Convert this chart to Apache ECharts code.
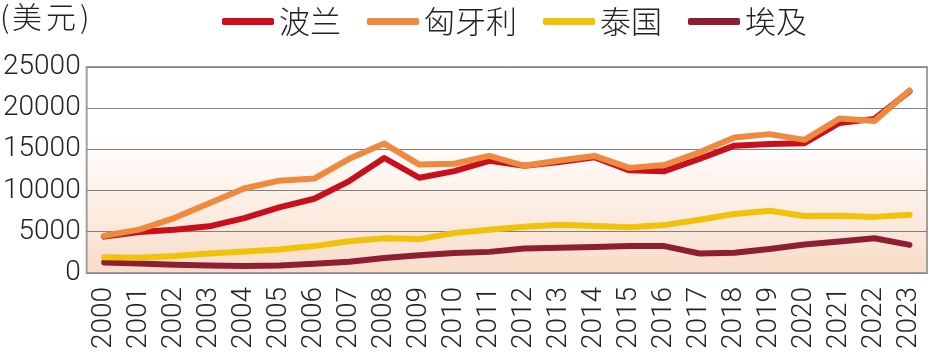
<!DOCTYPE html>
<html>
<head>
<meta charset="utf-8">
<script src="https://cdn.jsdelivr.net/npm/echarts@6/dist/echarts.min.js"></script>
<style>
  html, body { margin: 0; padding: 0; background: #fff; }
  #chart { width: 929px; height: 352px; }
</style>
</head>
<body>
<div id="chart"></div>
<script>
// 年份
const years = ['2000', '2001', '2002', '2003', '2004', '2005', '2006', '2007', '2008', '2009', '2010', '2011',
  '2012', '2013', '2014', '2015', '2016', '2017', '2018', '2019', '2020', '2021', '2022', '2023']
// 人均GDP（美元）
const poland = [4400, 4950, 5250, 5650, 6650, 7950, 9000, 11150, 13950, 11550, 12350, 13600,
  13000, 13450, 14050, 12450, 12350, 13850, 15450, 15650, 15750, 18200, 18700, 22050]
const hungary = [4500, 5250, 6650, 8450, 10250, 11200, 11450, 13850, 15700, 13150, 13250, 14200,
  13000, 13650, 14200, 12750, 13100, 14650, 16450, 16850, 16150, 18750, 18450, 22150]
const thailand = [1900, 1850, 2050, 2350, 2600, 2850, 3250, 3850, 4200, 4100, 4850, 5250,
  5600, 5850, 5700, 5550, 5800, 6450, 7150, 7550, 6900, 6950, 6800, 7050]
const egypt = [1250, 1150, 1000, 900, 850, 900, 1100, 1350, 1800, 2150, 2400, 2550,
  2950, 3050, 3150, 3250, 3250, 2350, 2450, 2900, 3450, 3800, 4200, 3400]
const yTicks = [0, 5000, 10000, 15000, 20000, 25000]

const font = "Roboto, 'Liberation Sans', sans-serif"
const cjkFont = "'Noto Sans CJK SC', sans-serif"

const chart = echarts.init(document.getElementById('chart'))

function mkSeries(name, data, color) {
  return {
    name: name,
    type: 'line',
    data: data,
    symbol: 'none',
    color: color,
    lineStyle: { width: 6, color: color, cap: 'round', join: 'round' }
  }
}

// 单位文字，手动拉开字距
const unitStyle = { font: '300 30px ' + cjkFont, fill: '#222' }
const option = {
  animation: false,
  graphic: [{
    type: 'group',
    left: 0,
    top: 2,
    children: [
      { type: 'text', x: 2, y: 0, style: Object.assign({ text: '(' }, unitStyle) },
      { type: 'text', x: 14, y: 0, style: Object.assign({ text: '美' }, unitStyle) },
      { type: 'text', x: 48, y: 0, style: Object.assign({ text: '元' }, unitStyle) },
      { type: 'text', x: 82, y: 0, style: Object.assign({ text: ')' }, unitStyle) }
    ]
  }],
  legend: {
    left: 222,
    top: 6,
    padding: 0,
    itemGap: 26,
    itemWidth: 52,
    itemHeight: 7,
    icon: 'roundRect',
    textStyle: { fontSize: 31, fontWeight: 300, fontFamily: cjkFont, color: '#222' },
    data: ['波兰', '匈牙利', '泰国', '埃及']
  },
  grid: {
    left: 86,
    right: 2,
    top: 67,
    bottom: 76,
    show: true,
    borderColor: '#a0a0a0',
    borderWidth: 2,
    backgroundColor: {
      type: 'linear', x: 0, y: 0, x2: 0, y2: 1,
      colorStops: [
        { offset: 0, color: '#ffffff' },
        { offset: 0.35, color: '#ffffff' },
        { offset: 1, color: '#f8dcc8' }
      ]
    }
  },
  xAxis: {
    type: 'category',
    data: years,
    boundaryGap: true,
    axisLine: { show: false },
    axisTick: { show: false },
    axisLabel: {
      rotate: 90,
      interval: 0,
      margin: 14,
      fontSize: 28,
      fontWeight: 300,
      fontFamily: font,
      color: '#222'
    }
  },
  yAxis: {
    type: 'value',
    min: 0,
    max: 25000,
    interval: 5000,
    axisLine: { show: false },
    axisTick: { show: false },
    splitLine: { lineStyle: { color: '#808080', width: 1 } },
    axisLabel: {
      margin: 6,
      fontSize: 28,
      fontWeight: 300,
      fontFamily: font,
      color: '#222',
      padding: [0, 0, 8, 0],
      formatter: v => yTicks.includes(v) ? String(v) : ''
    }
  },
  series: [
    mkSeries('埃及', egypt, '#8e1f33'),
    mkSeries('泰国', thailand, '#f0c20a'),
    mkSeries('波兰', poland, '#c90f1c'),
    mkSeries('匈牙利', hungary, '#ee8a3e')
  ]
}

chart.setOption(option)
</script>
</body>
</html>
